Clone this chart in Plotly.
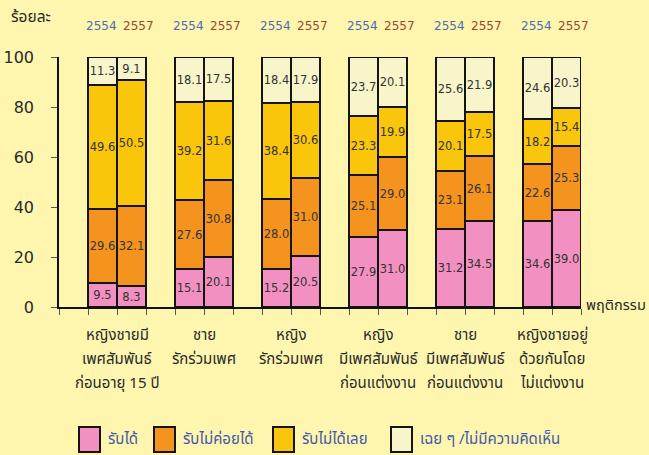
import plotly.graph_objects as go

# ---------------- data ----------------
groups = [
    ["หญิงชายมี", "เพศสัมพันธ์", "ก่อนอายุ 15 ปี"],
    ["ชาย", "รักร่วมเพศ"],
    ["หญิง", "รักร่วมเพศ"],
    ["หญิง", "มีเพศสัมพันธ์", "ก่อนแต่งงาน"],
    ["ชาย", "มีเพศสัมพันธ์", "ก่อนแต่งงาน"],
    ["หญิงชายอยู่", "ด้วยกันโดย", "ไม่แต่งงาน"],
]
years = ["2554", "2557"]
series_names = ["รับได้", "รับไม่ค่อยได้", "รับไม่ได้เลย", "เฉย ๆ /ไม่มีความคิดเห็น"]

# values per group: [2554, 2557]
accept      = [[9.5, 8.3], [15.1, 20.1], [15.2, 20.5], [27.9, 31.0], [31.2, 34.5], [34.6, 39.0]]
hardly      = [[29.6, 32.1], [27.6, 30.8], [28.0, 31.0], [25.1, 29.0], [23.1, 26.1], [22.6, 25.3]]
not_accept  = [[49.6, 50.5], [39.2, 31.6], [38.4, 30.6], [23.3, 19.9], [20.1, 17.5], [18.2, 15.4]]
neutral     = [[11.3, 9.1], [18.1, 17.5], [18.4, 17.9], [23.7, 20.1], [25.6, 21.9], [24.6, 20.3]]

y_ticks = [0, 20, 40, 60, 80, 100]
y_title = "ร้อยละ"
x_title = "พฤติกรรม"

# ---------------- style ----------------
colors = ["#F290C2", "#F4931E", "#F9C60C", "#F8F5CA"]
year_colors = ["#4E6BB2", "#A0442E"]
bg = "#FEF6AF"
thai_font = "Tahoma, 'Noto Sans Thai', 'Loma', 'Garuda', 'Noto Sans', 'DejaVu Sans', sans-serif"
num_font = "Tahoma, 'DejaVu Sans', sans-serif"

L, T, W, H = 59, 57, 522, 250


def px_x(p):
    return (p - L) / W


def px_y(p):
    return (T + H - p) / H


# slot-based x positions: each group takes 3 slots (gap, bar, bar)
xs = []
for g in range(len(groups)):
    xs += [3 * g + 1.5, 3 * g + 2.5]

all_series = [accept, hardly, not_accept, neutral]

fig = go.Figure()
for name, vals, col in zip(series_names, all_series, colors):
    flat = [v for pair in vals for v in pair]
    fig.add_trace(go.Bar(
        x=xs, y=flat, name=name, width=1.0,
        marker=dict(color=col, line=dict(color="#141414", width=2)),
        text=[f"{v:.1f}" for v in flat], textposition="inside",
        insidetextanchor="middle", textangle=0, constraintext="none",
        insidetextfont=dict(family=num_font, size=11.5, color="#333333"),
        hoverinfo="skip", showlegend=False,
    ))

annotations = []
# year labels above the bars
year_off = [1.45, 2.75]
for g in range(len(groups)):
    for k, yr in enumerate(years):
        annotations.append(dict(
            x=3 * g + year_off[k], y=px_y(26), xref="x", yref="paper",
            text=yr, showarrow=False, yanchor="middle",
            font=dict(family=num_font, size=12, color=year_colors[k]),
        ))
# category labels
line_px = [335, 359, 383]
for g, lines in enumerate(groups):
    for li, t in enumerate(lines):
        annotations.append(dict(
            x=3 * g + 2, y=px_y(line_px[li]), xref="x", yref="paper",
            text=t, showarrow=False, yanchor="middle",
            font=dict(family=thai_font, size=15, color="#2a2a2a"),
        ))
# axis titles
annotations.append(dict(x=px_x(9), y=px_y(17), xref="paper", yref="paper", text=y_title,
                        showarrow=False, xanchor="left", yanchor="middle",
                        font=dict(family=thai_font, size=15.5, color="#2a2a2a")))
annotations.append(dict(x=px_x(584), y=px_y(306), xref="paper", yref="paper",
                        text=x_title, showarrow=False, xanchor="left", yanchor="middle",
                        font=dict(family=thai_font, size=14.5, color="#2a2a2a")))

# legend drawn manually
shapes = []
leg_boxes = [79, 154, 273, 391]
for bx, col, name in zip(leg_boxes, colors, series_names):
    shapes.append(dict(type="rect", xref="paper", yref="paper",
                       x0=px_x(bx), x1=px_x(bx + 21),
                       y0=px_y(452), y1=px_y(427),
                       fillcolor=col, line=dict(color="#141414", width=2)))
    annotations.append(dict(x=px_x(bx + 27), y=px_y(439),
                            xref="paper", yref="paper", text=name, showarrow=False,
                            xanchor="left", yanchor="middle",
                            font=dict(family=thai_font, size=15, color="#4358A8")))

fig.update_layout(
    width=649, height=455,
    margin=dict(l=L, r=649 - L - W, t=T, b=455 - T - H, autoexpand=False),
    paper_bgcolor=bg, plot_bgcolor=bg,
    barmode="stack", bargap=0,
    xaxis=dict(range=[0, 18], tickvals=list(range(19)), ticktext=[""] * 19,
               ticks="outside", ticklen=6, tickcolor="#555555", tickwidth=1,
               showline=True, linecolor="#111111", linewidth=1.5, automargin=False,
               showgrid=False, zeroline=False, fixedrange=True),
    yaxis=dict(range=[0, 100], tickvals=y_ticks, ticks="outside", ticklen=6,
               tickcolor="#555555", tickwidth=1, automargin=False,
               showline=True, linecolor="#111111", linewidth=1.5,
               showgrid=False, zeroline=False, ticklabelstandoff=14,
               tickfont=dict(family=num_font, size=16, color="#2a2a2a")),
    annotations=annotations, shapes=shapes,
    font=dict(family=thai_font),
)

fig.write_html("out.html", config={"displayModeBar": False},
               post_script="document.body.style.margin='0px';")
